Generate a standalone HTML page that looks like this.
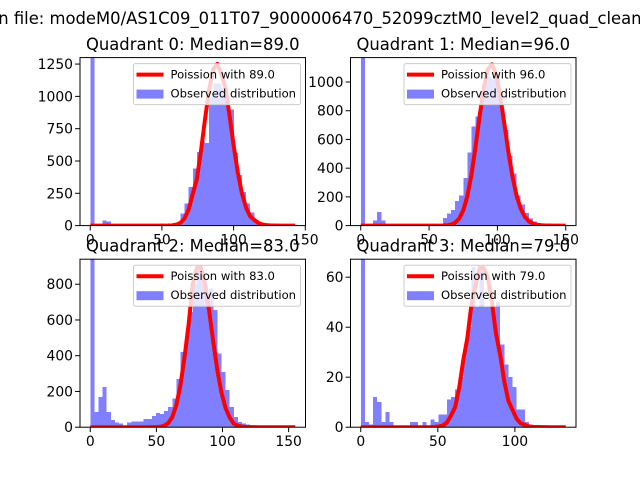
<!DOCTYPE html>
<html><head><meta charset="utf-8"><style>
body{margin:0;background:#fff}
svg{display:block;font-family:"DejaVu Sans","Liberation Sans",sans-serif}
</style></head><body>
<svg id="fig" width="640" height="480" viewBox="0 0 640 480">
<rect width="640" height="480" fill="#fff"/>
<text x="-51" y="24" font-size="16.4">Media<tspan>n file: modeM0/AS1C09_011T07_9000006470_52099cztM0_level2_quad_clean.evt</tspan></text>
</svg>
<script>
const medians = [89.0, 96.0, 83.0, 79.0];
const maxVals = [143, 150, 155, 133];
const yMaxes = [1300, 1170, 940, 67.2];
const curvePeaks = [1252, 1123, 903, 64.5];
const yTicks0 = [0,250,500,750,1000,1250];
const yTicks1 = [0,200,400,600,800,1000];
const yTicks2 = [0,200,400,600,800];
const yTicks3 = [0,20,40,60];
const xTicks0 = [0,50,100,150];
const xTicks1 = [0,50,100,150];
const xTicks2 = [0,50,100,150];
const xTicks3 = [0,50,100];
const counts0 = [1400,0,0,40,30,0,0,0,0,0, 0,0,0,0,0,0,0,15,0,0, 0,25,95,170,300,440,570,650,640,1000, 1100,1100,1060,1000,900,560,390,260,170,100, 45,15,10,8,0,0,0,0,0,0];
const counts1 = [1300,0,0,37,95,37,0,0,0,0, 0,0,0,0,0,0,5,5,8,10, 53,84,110,170,210,330,510,690,760,925, 995,1040,1020,1020,810,665,485,363,210,147, 88,49,30,18,5,0,0,0,0,0];
const counts2 = [1000,84,170,225,85,40,25,20,10,25, 33,33,33,45,45,63,80,73,90,113, 160,270,420,487,645,800,900,850,750,775, 655,412,310,207,114,58,28,20,15,0, 0,0,0,0,0,0,0,0,0,0];
const counts3 = [80,2,1,12,10,2,6,2,0,0, 0,0,2,2,0,2,0,3,2,5, 5,11,12,15,20,31,40,64,48,64, 48,48,48,50,33,25,20,16,7,7, 2,0,0,0,0,0,0,0,0,0];
const allCounts = [counts0, counts1, counts2, counts3];
const allYTicks = [yTicks0, yTicks1, yTicks2, yTicks3];
const allXTicks = [xTicks0, xTicks1, xTicks2, xTicks3];

const NS = "http://www.w3.org/2000/svg";
const svg = document.getElementById('fig');
function mk(tag, attrs, parent){const e=document.createElementNS(NS,tag);for(const k in attrs)e.setAttribute(k,attrs[k]);(parent||svg).appendChild(e);return e;}
function lgamma(z){
  if(z<7){let p=1;while(z<7){p*=z;z++;}return lgamma(z)-Math.log(p);}
  return (z-0.5)*Math.log(z)-z+0.5*Math.log(2*Math.PI)+1/(12*z)-1/(360*z*z*z);
}
const boxes=[[80,57.6],[350.5,57.6],[80,259.2],[350.5,259.2]];
const W=225.5,H=168;
for(let p=0;p<4;p++){
  const [L,T]=boxes[p];
  const mx=maxVals[p], bw=mx/50, xmin=-0.05*mx, xmax=1.05*mx, ymax=yMaxes[p];
  const sx=v=>L+(v-xmin)/(xmax-xmin)*W;
  const sy=v=>T+H-v/ymax*H;
  const g=mk('g',{});
  
  
  const clipId='clip'+p;
  const cp=mk('clipPath',{id:clipId},g);mk('rect',{x:L,y:T,width:W,height:H},cp);
  const plot=mk('g',{'clip-path':'url(#'+clipId+')'},g);
  allCounts[p].forEach((c,i)=>{
    if(c<=0)return;
    const x0=sx(i*bw),x1=sx((i+1)*bw);
    const r=mk('rect',{x:x0,y:sy(c),width:x1-x0,height:sy(0)-sy(c),fill:'#0000ff','fill-opacity':0.5,'shape-rendering':'crispEdges'},plot);
    
    
  });
  const mu=medians[p];
  const lp=k=>k*Math.log(mu)-mu-lgamma(k+1);
  const ref=lp(Math.floor(mu));
  let pts=[];
  for(let i=0;i<=50;i++){const k=Math.round(i*bw);pts.push(sx(i*bw)+','+sy(curvePeaks[p]*Math.exp(lp(k)-ref)));}
  const pl=mk('polyline',{points:pts.join(' '),fill:'none',stroke:'#ff0000','stroke-width':4,'stroke-linejoin':'round'},plot);
  
  
  const fr=mk('rect',{x:L,y:T,width:W,height:H,fill:'none',stroke:'#000','stroke-width':1},g);
  
  
  allXTicks[p].forEach(v=>{
    const x=sx(v);
    mk('line',{x1:x,x2:x,y1:T+H,y2:T+H+4.9,stroke:'#000'},g);
    const t=mk('text',{x:x,y:T+H+19,'font-size':13.9,'text-anchor':'middle'},g);t.textContent=v;
    
    
  });
  allYTicks[p].forEach(v=>{
    const y=sy(v);
    mk('line',{x1:L-4.9,x2:L,y1:y,y2:y,stroke:'#000'},g);
    const t=mk('text',{x:L-7,y:y+5,'font-size':13.9,'text-anchor':'end'},g);t.textContent=v;
    
    
  });
  const tt=mk('text',{x:L+W/2,y:T-7.5,'font-size':16.4,'text-anchor':'middle'},g);
  tt.textContent='Quadrant '+p+': Median='+mu.toFixed(1);
  
  
  const lg=mk('g',{},g);
  
  
  const lx=L+W-172, ly=T+6;
  mk('rect',{x:lx,y:ly,width:167,height:41,rx:2,fill:'#fff','fill-opacity':0.8,stroke:'#cccccc'},lg);
  mk('line',{x1:lx+3,x2:lx+30,y1:ly+11,y2:ly+11,stroke:'#ff0000','stroke-width':4},lg);
  const t1=mk('text',{x:lx+37,y:ly+15,'font-size':11.6},lg);t1.textContent='Poission with '+mu.toFixed(1);
  
  
  mk('rect',{x:lx+3,y:ly+26,width:27,height:9,fill:'#0000ff','fill-opacity':0.5},lg);
  const t2=mk('text',{x:lx+37,y:ly+34,'font-size':11.6},lg);t2.textContent='Observed distribution';
  
  
}
</script>
</body></html>
